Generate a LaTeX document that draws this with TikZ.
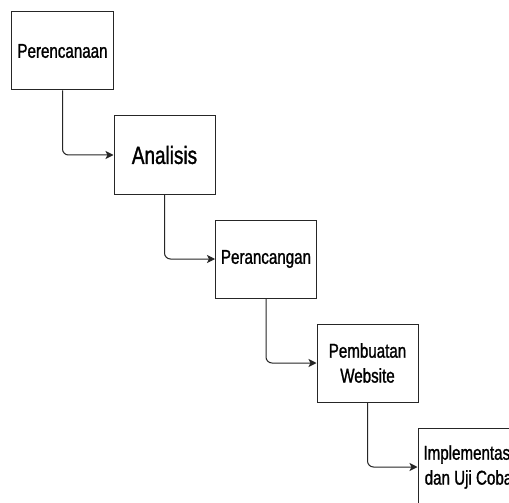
\documentclass[tikz,border=0pt]{standalone}
\usepackage{fontspec}
\setmainfont{Liberation Sans}[FakeStretch=0.76,FakeBold=1.2]
\usetikzlibrary{arrows.meta}
\begin{document}
\begin{tikzpicture}[x=1bp,y=-1bp,
  stepbox/.style={draw=black!85, line width=1bp, minimum width=101bp, minimum height=78bp, inner sep=0pt, align=center, font=\fontsize{20}{25}\selectfont, text=black},
  flow/.style={draw=black!85, line width=1bp, rounded corners=6bp, -{Stealth[length=8bp,width=8bp,inset=2bp]}}]
\useasboundingbox (0,0) rectangle (509,503);
\clip (0,0) rectangle (509,503);
\fill[white] (0,0) rectangle (509,503);
\node[stepbox] (b1) at (62.5,51) {Perencanaan};
\node[stepbox, font=\fontsize{25}{28}\selectfont] (b2) at (164.5,155) {Analisis};
\node[stepbox] (b3) at (266,259) {Perancangan};
\node[stepbox] (b4) at (367.5,363) {Pembuatan\\Website};
\node[stepbox] (b5) at (468.5,467) {Implementasi\\dan Uji Coba};
\draw[flow] (b1.south) |- (b2.west);
\draw[flow] (b2.south) |- (b3.west);
\draw[flow] (b3.south) |- (b4.west);
\draw[flow] (b4.south) |- (b5.west);
\end{tikzpicture}
\end{document}
